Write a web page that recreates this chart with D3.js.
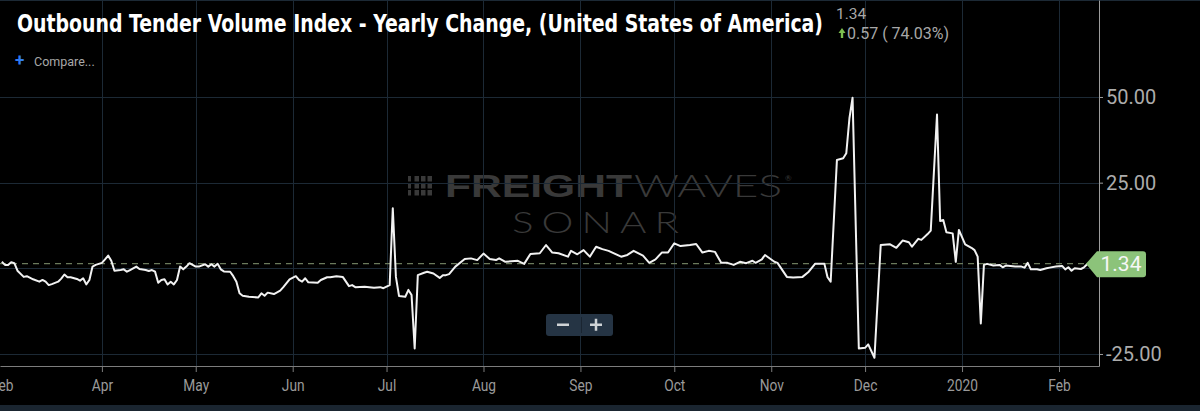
<!DOCTYPE html>
<html>
<head>
<meta charset="utf-8">
<script src="https://cdn.jsdelivr.net/npm/d3@7"></script>
<style>
  body { margin: 0; background: #000; overflow: hidden; }
  svg { display: block; }
</style>
</head>
<body>
<script>
// series (daily index, yearly change in %)
const dates = [
  "2019-02-28","2019-03-01","2019-03-02","2019-03-03","2019-03-04","2019-03-05","2019-03-07","2019-03-08",
  "2019-03-10","2019-03-12","2019-03-13","2019-03-14","2019-03-15","2019-03-16","2019-03-18","2019-03-19",
  "2019-03-20","2019-03-21","2019-03-22","2019-03-24","2019-03-25","2019-03-26","2019-03-27","2019-03-28",
  "2019-03-29","2019-03-30","2019-04-01","2019-04-02","2019-04-03","2019-04-04","2019-04-05","2019-04-07",
  "2019-04-08","2019-04-09","2019-04-10","2019-04-12","2019-04-13","2019-04-15","2019-04-16","2019-04-17",
  "2019-04-18","2019-04-19","2019-04-20","2019-04-21","2019-04-22","2019-04-23","2019-04-24","2019-04-25",
  "2019-04-26","2019-04-27","2019-04-28","2019-04-29","2019-05-01","2019-05-02","2019-05-04","2019-05-05",
  "2019-05-06","2019-05-07","2019-05-08","2019-05-09","2019-05-10","2019-05-12","2019-05-13","2019-05-14",
  "2019-05-15","2019-05-16","2019-05-18","2019-05-21","2019-05-22","2019-05-23","2019-05-24","2019-05-26",
  "2019-05-28","2019-05-29","2019-05-31","2019-06-02","2019-06-03","2019-06-04","2019-06-05","2019-06-06",
  "2019-06-09","2019-06-10","2019-06-12","2019-06-13","2019-06-15","2019-06-17","2019-06-19","2019-06-20",
  "2019-06-21","2019-06-24","2019-06-27","2019-06-29","2019-06-30","2019-07-02","2019-07-03","2019-07-04",
  "2019-07-05","2019-07-07","2019-07-08","2019-07-09","2019-07-10","2019-07-11","2019-07-13","2019-07-14",
  "2019-07-16","2019-07-18","2019-07-19","2019-07-20","2019-07-21","2019-07-23","2019-07-26","2019-07-28",
  "2019-07-30","2019-08-01","2019-08-03","2019-08-05","2019-08-06","2019-08-08","2019-08-12","2019-08-14",
  "2019-08-16","2019-08-19","2019-08-21","2019-08-23","2019-08-25","2019-08-28","2019-08-29","2019-08-31",
  "2019-09-02","2019-09-04","2019-09-06","2019-09-08","2019-09-10","2019-09-14","2019-09-16","2019-09-18",
  "2019-09-21","2019-09-23","2019-09-25","2019-09-27","2019-09-29","2019-10-01","2019-10-03","2019-10-06",
  "2019-10-08","2019-10-10","2019-10-12","2019-10-14","2019-10-16","2019-10-18","2019-10-20","2019-10-22",
  "2019-10-24","2019-10-26","2019-10-27","2019-10-29","2019-10-30","2019-11-02","2019-11-03","2019-11-06",
  "2019-11-08","2019-11-11","2019-11-13","2019-11-15","2019-11-18","2019-11-19","2019-11-20","2019-11-22",
  "2019-11-24","2019-11-25","2019-11-26","2019-11-27","2019-11-29","2019-12-01","2019-12-02","2019-12-04",
  "2019-12-06","2019-12-09","2019-12-11","2019-12-13","2019-12-15","2019-12-16","2019-12-18","2019-12-19",
  "2019-12-21","2019-12-22","2019-12-24","2019-12-25","2019-12-26","2019-12-27","2019-12-29","2019-12-30",
  "2019-12-31","2020-01-02","2020-01-04","2020-01-05","2020-01-06","2020-01-07","2020-01-08","2020-01-09",
  "2020-01-11","2020-01-13","2020-01-14","2020-01-15","2020-01-18","2020-01-20","2020-01-21","2020-01-22",
  "2020-01-23","2020-01-25","2020-01-26","2020-01-28","2020-01-29","2020-01-31","2020-02-02","2020-02-03",
  "2020-02-04","2020-02-05","2020-02-06","2020-02-08","2020-02-09","2020-02-10","2020-02-13"
];
const values = [
  1.9, 1.0, 1.0, 1.8, 1.5, -0.7, -2.5, -2.3,
  -3.2, -3.9, -3.4, -3.9, -4.9, -4.6, -3.9, -3.0,
  -1.8, -2.6, -2.6, -3.1, -3.6, -2.9, -4.7, -3.4,
  0.5, 1.0, 1.6, 2.6, 3.7, 2.2, -0.7, -0.5,
  -0.3, -1.0, -0.5, 0.5, -0.2, -0.5, -0.8, -0.5,
  -1.0, -4.2, -3.4, -3.2, -4.7, -3.9, -4.7, -3.4,
  0.5, -0.3, 0.5, 1.5, 0.5, 0.5, 1.2, 0.5,
  1.2, 0.5, 1.3, -0.3, -0.9, -1.0, -2.3, -3.9,
  -7.3, -8.0, -8.3, -8.5, -7.3, -8.0, -7.1, -7.5,
  -6.5, -5.5, -3.2, -2.3, -3.4, -3.9, -2.9, -4.1,
  -4.2, -3.4, -2.6, -2.6, -2.3, -2.5, -5.2, -4.9,
  -5.5, -5.4, -5.7, -5.5, -5.8, -4.9, 17.5, -2.5,
  -8.1, -8.3, -6.3, -7.8, -23.4, -2.0, -1.3, -1.0,
  -1.5, -2.8, -2.0, -2.0, -1.7, 0.5, 2.7, 2.9,
  2.4, 4.3, 2.7, 2.4, 2.9, 1.9, 2.2, 1.3,
  4.2, 4.4, 6.8, 4.6, 4.4, 3.4, 5.1, 4.1,
  5.3, 3.4, 6.3, 5.6, 5.1, 3.4, 3.9, 5.1,
  3.7, 1.6, 2.6, 4.6, 4.6, 7.3, 6.5, 6.8,
  7.1, 4.6, 5.1, 4.8, 1.6, 1.6, 1.0, 1.9,
  1.5, 2.2, 1.6, 2.6, 3.9, 1.9, 1.6, -2.5,
  -2.7, -2.5, -1.0, 1.3, 1.3, -2.6, -3.9, 31.6,
  32.1, 33.6, 43.8, 49.8, -23.4, -23.2, -22.2, -26.1,
  6.8, 7.0, 6.0, 8.1, 7.6, 6.3, 8.6, 8.3,
  10.0, 11.0, 44.9, 13.8, 14.1, 10.5, 10.2, 1.9,
  11.2, 7.0, 6.0, 5.3, 3.4, -16.1, 1.0, 1.3,
  0.8, 1.0, 0.3, 0.8, 0.5, 0.5, 0.2, 1.6,
  -0.3, -0.3, -0.5, 0.0, 0.2, 0.5, 0.7, -0.3,
  0.3, -0.7, 0.0, -0.2, 0.3, 1.2, 1.34
];

const tickDates = ["2019-02-28","2019-04-01","2019-05-01","2019-06-01","2019-07-01","2019-08-01",
                   "2019-09-01","2019-10-01","2019-11-01","2019-12-01","2020-01-01","2020-02-01"];
const tickLabels = ["Feb","Apr","May","Jun","Jul","Aug","Sep","Oct","Nov","Dec","2020","Feb"];
const yTicks = [50, 25, -25];
const yGrid = [50, 25, 0, -25];

const title = "Outbound Tender Volume Index - Yearly Change, (United States of America)";
const lastValue = 1.34;
const changeText = "0.57 ( 74.03%)";

const width = 1200, height = 411;
const plotRight = 1099, plotBottom = 366;

const parse = d3.utcParse("%Y-%m-%d");
const data = dates.map((d, i) => ({ date: parse(d), value: values[i] }));

const x = d3.scaleUtc()
  .domain([new Date(Date.UTC(2019, 1, 27, 10)), new Date(Date.UTC(2020, 1, 13, 19))])
  .range([0, plotRight]);
const y = d3.scaleLinear()
  .domain([-28.51, 78.31])
  .range([plotBottom, 0]);

const svg = d3.select("body").append("svg")
  .attr("width", width)
  .attr("height", height);

svg.append("rect").attr("width", width).attr("height", height).attr("fill", "#000");

// watermark
const wm = svg.append("g").attr("fill", "#393939");
[0, 1, 2].forEach(r => {
  [0, 1, 2, 3].forEach(c => {
    wm.append("rect")
      .attr("x", 408 + c * 6.5).attr("y", 176 + r * 7)
      .attr("width", c === 0 ? 3 : 4.5).attr("height", 5.5);
  });
});
wm.append("text")
  .attr("x", 445).attr("y", 197)
  .attr("font-family", "'Liberation Sans', Arial, sans-serif")
  .attr("font-weight", 900).attr("font-size", 31)
  .attr("textLength", 187).attr("lengthAdjust", "spacingAndGlyphs")
  .text("FREIGHT");
wm.append("text")
  .attr("x", 634).attr("y", 197)
  .attr("font-family", "Lato, 'Open Sans', sans-serif")
  .attr("font-weight", 300).attr("font-size", 31)
  .attr("textLength", 148).attr("lengthAdjust", "spacingAndGlyphs")
  .text("WAVES");
wm.append("text")
  .attr("x", 785).attr("y", 181)
  .attr("font-family", "Lato, sans-serif").attr("font-size", 8)
  .text("®");
wm.append("text")
  .attr("x", 512).attr("y", 233)
  .attr("font-family", "Lato, 'Open Sans', sans-serif")
  .attr("font-weight", 300).attr("font-size", 30)
  .attr("letter-spacing", 6)
  .attr("textLength", 175).attr("lengthAdjust", "spacingAndGlyphs")
  .text("SONAR");

// grid
const grid = svg.append("g").attr("stroke", "#1c2935").attr("stroke-width", 1);
grid.append("line").attr("x1", 0).attr("x2", width).attr("y1", 0.5).attr("y2", 0.5);
grid.selectAll(".vg").data(tickDates.slice(1)).join("line")
  .attr("x1", d => Math.round(x(parse(d))) + 0.5)
  .attr("x2", d => Math.round(x(parse(d))) + 0.5)
  .attr("y1", 0).attr("y2", plotBottom);
grid.selectAll(".hg").data(yGrid).join("line")
  .attr("x1", 0).attr("x2", plotRight)
  .attr("y1", d => Math.round(y(d)) + 0.5)
  .attr("y2", d => Math.round(y(d)) + 0.5);

// zoom buttons
const btn = svg.append("g");
btn.append("rect")
  .attr("x", 546).attr("y", 314).attr("width", 67).attr("height", 22).attr("rx", 3)
  .attr("fill", "#253444");
btn.append("line")
  .attr("x1", 581.5).attr("x2", 581.5).attr("y1", 317).attr("y2", 333)
  .attr("stroke", "#1a2531");
btn.append("rect").attr("x", 557).attr("y", 323.5).attr("width", 12).attr("height", 2.5).attr("fill", "#cfd3d6");
btn.append("rect").attr("x", 590).attr("y", 323.5).attr("width", 12).attr("height", 2.5).attr("fill", "#cfd3d6");
btn.append("rect").attr("x", 594.75).attr("y", 318.75).attr("width", 2.5).attr("height", 12).attr("fill", "#cfd3d6");

// last value dashed level
svg.append("line")
  .attr("x1", 0).attr("x2", plotRight)
  .attr("y1", y(lastValue)).attr("y2", y(lastValue))
  .attr("stroke", "#6b7a5c").attr("stroke-width", 1.2)
  .attr("stroke-dasharray", "6,5");

// series line
svg.append("clipPath").attr("id", "plot")
  .append("rect").attr("x", 0).attr("y", 0).attr("width", plotRight).attr("height", plotBottom);

const line = d3.line()
  .x(d => x(d.date))
  .y(d => y(d.value));

svg.append("path")
  .datum(data)
  .attr("clip-path", "url(#plot)")
  .attr("d", line)
  .attr("fill", "none")
  .attr("stroke", "#f2f2f2")
  .attr("stroke-width", 2)
  .attr("stroke-linejoin", "round");

// x axis
const xAxis = svg.append("g")
  .attr("transform", `translate(0,${plotBottom})`)
  .call(d3.axisBottom(x)
    .tickValues(tickDates.map(parse))
    .tickFormat((d, i) => tickLabels[i])
    .tickSize(6).tickSizeOuter(0).tickPadding(8));
xAxis.select(".domain").attr("stroke", "#7c7c7c");
xAxis.selectAll(".tick line").attr("stroke", "#7c7c7c").filter((d, i) => i === 0).remove();
xAxis.selectAll(".tick text")
  .attr("fill", "#9a9a9a")
  .attr("font-family", "Roboto, sans-serif")
  .attr("font-size", 16)
  .attr("transform", "scale(0.86,1)");

// y axis
const yAxis = svg.append("g")
  .attr("transform", `translate(${plotRight},0)`)
  .call(d3.axisRight(y)
    .tickValues(yTicks)
    .tickFormat(d => d.toFixed(2))
    .tickSize(4).tickSizeOuter(0).tickPadding(3));
yAxis.select(".domain").attr("stroke", "#9c9c9c");
yAxis.selectAll(".tick line").attr("stroke", "#9c9c9c");
yAxis.selectAll(".tick text")
  .attr("fill", "#acacac")
  .attr("font-family", "Roboto, sans-serif")
  .attr("font-size", 20);

// current value label
const ly = y(lastValue);
svg.append("path")
  .attr("d", `M1086,${ly} L1097,${ly - 12.5} L1143,${ly - 12.5} Q1146,${ly - 12.5} 1146,${ly - 9.5}
              L1146,${ly + 10.5} Q1146,${ly + 13.5} 1143,${ly + 13.5} L1097,${ly + 13.5} Z`)
  .attr("fill", "#8cc37a");
svg.append("text")
  .attr("x", 1121).attr("y", ly + 7.5)
  .attr("text-anchor", "middle")
  .attr("fill", "#f7f7f7")
  .attr("font-family", "Roboto, sans-serif")
  .attr("font-size", 21)
  .text(lastValue.toFixed(2));

// header
svg.append("text")
  .attr("x", 17).attr("y", 32)
  .attr("fill", "#ffffff")
  .attr("font-family", "'Liberation Sans Narrow', 'DejaVu Sans Condensed', Roboto, sans-serif")
  .attr("font-weight", "bold")
  .attr("font-size", 25)
  .attr("textLength", 806).attr("lengthAdjust", "spacingAndGlyphs")
  .text(title);

svg.append("text")
  .attr("x", 836).attr("y", 19)
  .attr("fill", "#a8a8a8")
  .attr("font-family", "Roboto, sans-serif")
  .attr("font-size", 15.5)
  .text(lastValue.toFixed(2));
svg.append("path")
  .attr("d", "M838.5,33 L842,28 L845.5,33 L843.2,33 L843.2,38 L840.8,38 L840.8,33 Z")
  .attr("fill", "#7cbf4f");
svg.append("text")
  .attr("x", 847).attr("y", 39)
  .attr("fill", "#a8a8a8")
  .attr("font-family", "Roboto, sans-serif")
  .attr("font-size", 16)
  .text(changeText);

svg.append("text")
  .attr("x", 15).attr("y", 66)
  .attr("fill", "#2f7cf0")
  .attr("font-family", "Roboto, sans-serif")
  .attr("font-weight", "bold")
  .attr("font-size", 17)
  .text("+");
svg.append("text")
  .attr("x", 34).attr("y", 66)
  .attr("fill", "#a8a8a8")
  .attr("font-family", "Roboto, sans-serif")
  .attr("font-size", 12.5)
  .text("Compare...");

// bottom strip
svg.append("rect")
  .attr("x", 0).attr("y", 405).attr("width", width).attr("height", 6)
  .attr("fill", "#1a2530");
</script>
</body>
</html>
